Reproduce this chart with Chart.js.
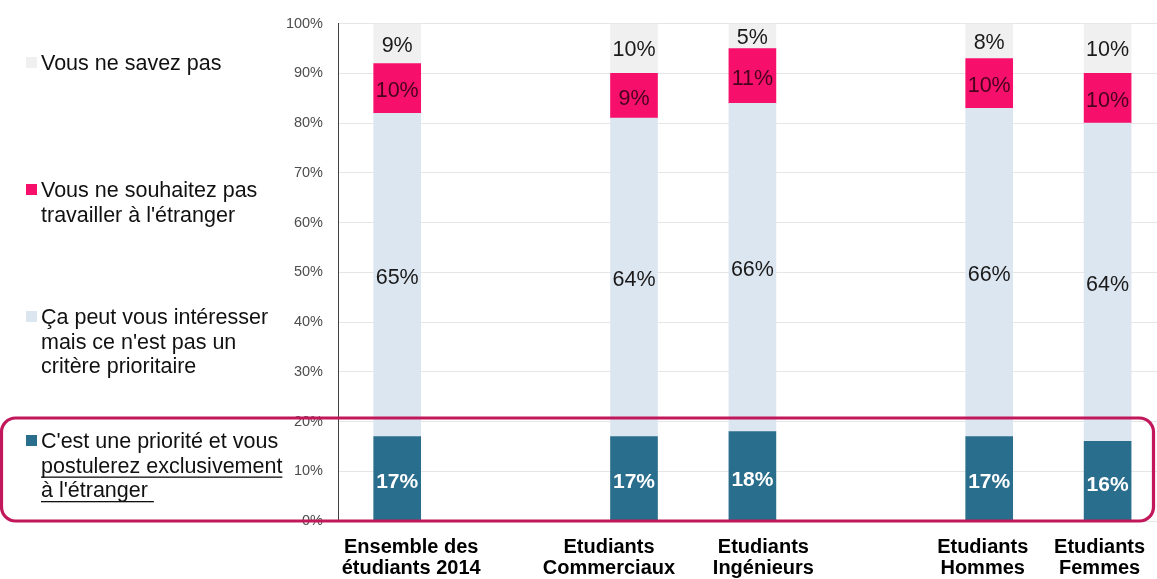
<!DOCTYPE html>
<html>
<head>
<meta charset="utf-8">
<script src="https://cdn.jsdelivr.net/npm/chart.js@4.4.0/dist/chart.umd.min.js"></script>
<style>
  html, body { margin: 0; padding: 0; background: #ffffff; }
  canvas { display: block; }
</style>
</head>
<body>
<canvas id="chart" width="1157" height="579"></canvas>
<script>
// Groups of respondents; null marks an empty slot between groups
const categories = [
  ['Ensemble des', 'étudiants 2014'],
  null,
  ['Etudiants', 'Commerciaux'],
  ['Etudiants', 'Ingénieurs'],
  null,
  ['Etudiants', 'Hommes'],
  ['Etudiants', 'Femmes']
];

// Answer labels (bottom to top of each stack)
const seriesNames = [
  ['C\'est une priorité et vous', 'postulerez exclusivement', 'à l\'étranger '],
  ['Ça peut vous intéresser', 'mais ce n\'est pas un', 'critère prioritaire'],
  ['Vous ne souhaitez pas', 'travailler à l\'étranger'],
  ['Vous ne savez pas']
];

// Shares in % per group
const prioritaire = [17, null, 17, 18, null, 17, 16];
const interesse   = [65, null, 64, 66, null, 66, 64];
const nonSouhaite = [10, null,  9, 11, null, 10, 10];
const neSaitPas   = [ 9, null, 10,  5, null,  8, 10];

const yTickValues = [0, 10, 20, 30, 40, 50, 60, 70, 80, 90, 100];

const FONT = "'Liberation Sans', Arial, Helvetica, sans-serif";
const AXIS_LEFT = 338;
const SLOT = 118.4;
// Small horizontal nudge (px) of each group caption relative to its bar
const captionNudge = { 0: 14, 2: -25, 3: 11, 5: -6.5, 6: -8 };

function toPoints(values) {
  return values
    .map((v, i) => (v === null ? null : { x: i, y: v }))
    .filter(p => p !== null);
}

const seriesStyles = [
  { color: '#2a6e8e', text: '#ffffff', weight: 'bold', size: 21, shift: 4 },
  { color: '#dce6f1', text: '#1a1a1a', weight: 'normal', size: 21.5, shift: 3 },
  { color: '#f7106b', text: 'rgba(40,0,15,0.85)', weight: 'normal', size: 21.5, shift: 3 },
  { color: '#f0f0f0', text: '#1a1a1a', weight: 'normal', size: 21.5, shift: 2 }
];

const seriesValues = [prioritaire, interesse, nonSouhaite, neSaitPas];

const datasets = seriesValues.map((vals, i) => ({
  label: seriesNames[i].join(' '),
  data: toPoints(vals),
  backgroundColor: seriesStyles[i].color,
  borderWidth: 0,
  barThickness: 47
}));

// Percentage written in the middle of each segment
const segmentLabels = {
  id: 'segmentLabels',
  afterDatasetsDraw(chart) {
    const ctx = chart.ctx;
    const area = chart.chartArea;
    ctx.save();
    ctx.textAlign = 'center';
    ctx.textBaseline = 'middle';
    chart.data.datasets.forEach((ds, di) => {
      const st = seriesStyles[di];
      const meta = chart.getDatasetMeta(di);
      ctx.font = st.weight + ' ' + st.size + 'px ' + FONT;
      ctx.fillStyle = st.text;
      meta.data.forEach((bar, j) => {
        const top = Math.max(bar.y, area.top);
        const cy = (top + bar.base) / 2 + st.shift;
        ctx.fillText(ds.data[j].y + '%', bar.x, cy);
      });
    });
    ctx.restore();
  }
};

// Legend on the left, plus the highlight frame around the first answer
const sideLegend = {
  id: 'sideLegend',
  afterDraw(chart) {
    const ctx = chart.ctx;
    const baselines = [448, 324, 197, 70];
    const lineGap = 24.5;
    ctx.save();
    ctx.font = '21.5px ' + FONT;
    ctx.textAlign = 'left';
    ctx.textBaseline = 'alphabetic';
    seriesNames.forEach((lines, i) => {
      const b = baselines[i];
      ctx.fillStyle = seriesStyles[i].color;
      ctx.fillRect(26, b - 13, 11, 11);
      ctx.fillStyle = '#111111';
      lines.forEach((line, k) => {
        const y = b + k * lineGap;
        ctx.fillText(line, 41, y);
        if (i === 0 && k > 0) {
          const w = ctx.measureText(line).width;
          ctx.fillRect(41, y + 4, w, 1.3);
        }
      });
    });

    ctx.strokeStyle = '#c2185b';
    ctx.lineWidth = 3.2;
    ctx.beginPath();
    ctx.roundRect(1.5, 418, 1152, 103, 14);
    ctx.stroke();
    ctx.restore();
  }
};

new Chart(document.getElementById('chart'), {
  type: 'bar',
  data: { datasets },
  plugins: [segmentLabels, sideLegend],
  options: {
    responsive: false,
    animation: false,
    layout: { padding: { top: 23, right: 0, bottom: 0, left: 0 } },
    plugins: {
      legend: { display: false },
      tooltip: { enabled: false }
    },
    scales: {
      x: {
        type: 'linear',
        stacked: true,
        offset: false,
        bounds: 'data',
        min: -0.5,
        max: -0.5 + (1157 - AXIS_LEFT) / SLOT,
        grid: { display: false, drawTicks: false },
        border: { display: false },
        afterFit(scale) {
          scale.height = 58;
          scale.paddingLeft = 0;
          scale.paddingRight = 0;
        },
        afterBuildTicks(scale) {
          scale.ticks = categories
            .map((c, i) => (c ? { value: i + (captionNudge[i] || 0) / SLOT, index: i } : null))
            .filter(t => t !== null);
        },
        ticks: {
          autoSkip: false,
          maxRotation: 0,
          padding: 16,
          color: '#000000',
          font: { family: FONT, size: 20, weight: 'bold', lineHeight: 1.05 },
          callback: (v, idx, ticks) => categories[ticks[idx].index]
        }
      },
      y: {
        stacked: true,
        min: 0,
        max: 100,
        afterFit(scale) { scale.width = AXIS_LEFT; },
        afterBuildTicks(scale) {
          scale.ticks = yTickValues.map(v => ({ value: v }));
        },
        grid: { color: '#e6e6e6', lineWidth: 1, drawTicks: false },
        border: { color: '#404040', width: 1 },
        ticks: {
          padding: 15,
          color: '#4d4d4d',
          font: { family: FONT, size: 14.5 },
          callback: v => v + '%'
        }
      }
    }
  }
});
</script>
</body>
</html>
